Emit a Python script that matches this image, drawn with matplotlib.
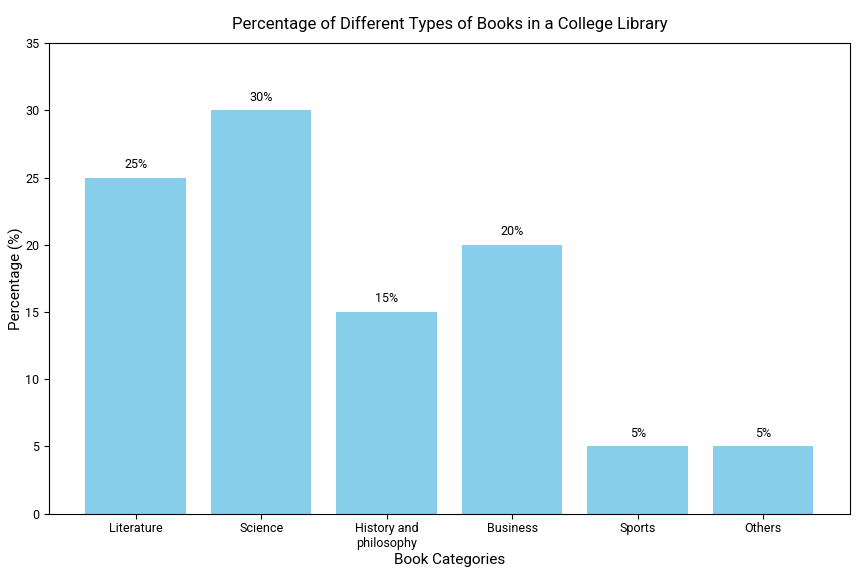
import matplotlib
matplotlib.use('Agg')
import matplotlib.pyplot as plt

plt.rcParams['font.family'] = ['Roboto', 'DejaVu Sans']

categories = ['Literature', 'Science', 'History and\nphilosophy', 'Business', 'Sports', 'Others']
percentages = [25, 30, 15, 20, 5, 5]
labels = ['25%', '30%', '15%', '20%', '5%', '5%']

fig, ax = plt.subplots(figsize=(8.61, 5.74), dpi=100)
fig.subplots_adjust(left=0.057, right=0.987, top=0.925, bottom=0.105)

bars = ax.bar(categories, percentages, color='skyblue', width=0.8)
for bar, lab in zip(bars, labels):
    ax.text(bar.get_x() + bar.get_width() / 2, bar.get_height() + 0.5, lab,
            ha='center', va='bottom', fontsize=9)

ax.set_ylim(0, 35)
ax.set_title('Percentage of Different Types of Books in a College Library', fontsize=12, pad=10)
ax.set_xlabel('Book Categories', fontsize=11, labelpad=2)
ax.set_ylabel('Percentage (%)', fontsize=11, labelpad=1)
ax.tick_params(labelsize=9)
ax.tick_params(axis='x', pad=2.5)

fig.savefig('out.png', dpi=100)
